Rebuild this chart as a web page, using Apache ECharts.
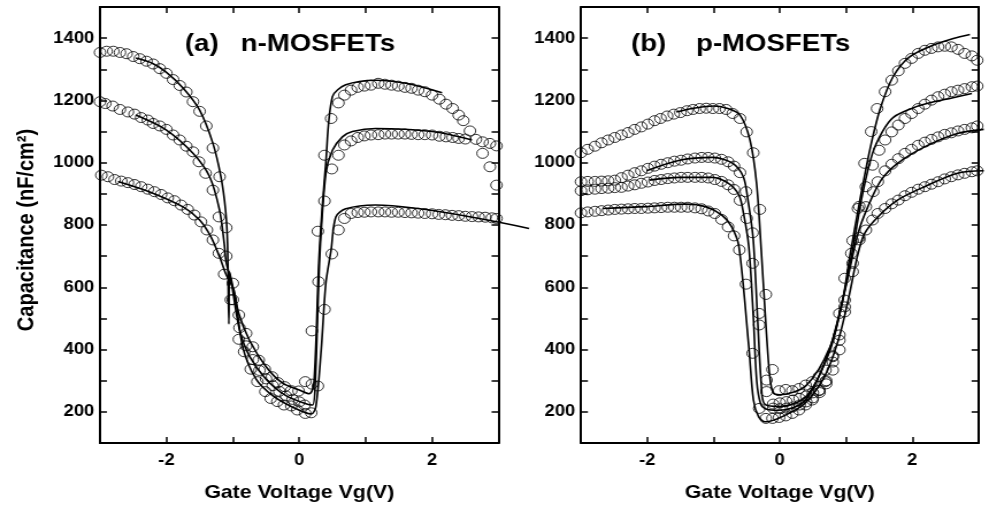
<!DOCTYPE html>
<html lang="en">
<head>
    <meta charset="UTF-8">
    <title>C-V curves</title>
    <script src="https://cdn.jsdelivr.net/npm/echarts@6/dist/echarts.min.js"></script>
    <style>
        html, body {margin: 0; padding: 0; background: #fff; overflow: hidden;}
        /* the original figure is stretched sideways, so draw narrow and stretch */
        #chart {width: 860px; height: 512px; transform: scaleX(1.15); transform-origin: 0 0;}
    </style>
</head>
<body>
<div id="chart"></div>
<script>
    // (a) n-MOSFETs, measured points [Vg, C]
    var aTopPts = [[-3.0,1354],[-2.9,1358],[-2.8,1358],[-2.7,1354],[-2.6,1350],[-2.5,1341],[-2.4,1334],[-2.3,1326],[-2.2,1317],[-2.1,1302],[-2.0,1287],[-1.9,1267],[-1.8,1248],[-1.7,1227],[-1.6,1196],[-1.5,1165],[-1.4,1118],[-1.3,1047],[-1.2,955],[-1.1,791],[-1.0,613],[-0.91,511],[-0.8,452],[-0.7,409],[-0.61,366],[-0.52,337],[-0.41,313],[-0.32,294],[-0.22,281],[-0.12,268],[-0.01,267],[0.09,297],[0.19,460],[0.28,780],[0.38,1024],[0.48,1142],[0.59,1192],[0.68,1217],[0.78,1233],[0.88,1242],[0.98,1246],[1.08,1249],[1.19,1255],[1.29,1252],[1.39,1249],[1.49,1246],[1.59,1242],[1.69,1239],[1.79,1233],[1.89,1228],[2.0,1217],[2.11,1204],[2.21,1188],[2.31,1174],[2.4,1153],[2.47,1135],[2.57,1102],[2.76,1030],[2.87,987],[2.97,928]];
    var aMidPts = [[-3.0,1196],[-2.92,1190],[-2.81,1182],[-2.7,1171],[-2.58,1163],[-2.48,1156],[-2.38,1145],[-2.28,1137],[-2.2,1126],[-2.1,1118],[-2.0,1107],[-1.9,1089],[-1.8,1073],[-1.7,1053],[-1.6,1035],[-1.51,1003],[-1.41,966],[-1.3,912],[-1.21,826],[-1.1,700],[-1.0,560],[-0.9,470],[-0.8,412],[-0.7,368],[-0.6,333],[-0.5,306],[-0.4,284],[-0.3,266],[-0.2,251],[-0.1,240],[0.0,232],[0.08,222],[0.19,289],[0.29,618],[0.38,877],[0.49,980],[0.59,1024],[0.68,1057],[0.78,1070],[0.88,1081],[0.98,1086],[1.08,1089],[1.19,1090],[1.29,1092],[1.39,1092],[1.49,1092],[1.59,1092],[1.69,1091],[1.79,1090],[1.89,1090],[2.0,1089],[2.11,1085],[2.21,1083],[2.31,1081],[2.4,1078],[2.5,1076],[2.66,1075],[2.76,1067],[2.87,1062],[2.97,1054]];
    var aBotPts = [[-2.98,960],[-2.88,955],[-2.78,946],[-2.68,941],[-2.58,936],[-2.48,930],[-2.38,923],[-2.28,915],[-2.18,907],[-2.08,898],[-1.98,887],[-1.88,878],[-1.78,864],[-1.68,850],[-1.58,832],[-1.48,810],[-1.39,784],[-1.3,752],[-1.21,709],[-1.13,642],[-1.03,560],[-0.91,433],[-0.83,393],[-0.73,337],[-0.63,297],[-0.51,265],[-0.43,243],[-0.33,233],[-0.23,222],[-0.12,219],[-0.03,206],[0.09,195],[0.18,197],[0.28,283],[0.38,529],[0.49,707],[0.59,784],[0.68,821],[0.78,837],[0.88,840],[0.98,841],[1.08,842],[1.19,842],[1.29,842],[1.39,841],[1.49,841],[1.59,840],[1.69,839],[1.79,838],[1.89,837],[2.0,836],[2.1,834],[2.2,833],[2.3,831],[2.4,830],[2.5,828],[2.6,827],[2.7,826],[2.8,825],[2.9,823],[2.97,821]];
    // (a) fitted curves
    var aTopFit = [[-2.46,1336],[-2.2,1318],[-2.0,1290],[-1.75,1240],[-1.5,1169],[-1.3,1062],[-1.18,955],[-1.11,848],[-1.08,741],[-1.06,482],[-1.05,650],[-0.91,516],[-0.75,430],[-0.5,345],[-0.25,292],[0,270],[0.15,258],[0.22,290],[0.3,703],[0.4,1000],[0.5,1212],[0.7,1250],[1.15,1265],[1.6,1255],[2.15,1225]];
    var aMidFit = [[-2.46,1153],[-2.0,1105],[-1.6,1030],[-1.35,955],[-1.2,848],[-1.13,741],[-1.1,680],[-1.03,624],[-0.9,464],[-0.75,379],[-0.5,305],[-0.2,252],[0.1,226],[0.2,222],[0.24,290],[0.31,703],[0.4,966],[0.5,1040],[0.65,1083],[0.8,1100],[1.15,1110],[2.0,1100],[2.6,1073]];
    var aBotFit = [[-2.73,940],[-2.26,907],[-1.75,858],[-1.5,816],[-1.33,762],[-1.2,698],[-1.1,640],[-0.98,588],[-0.85,407],[-0.65,305],[-0.4,252],[-0.1,215],[0.18,193],[0.25,217],[0.33,398],[0.4,613],[0.48,720],[0.55,826],[0.7,852],[1.15,864],[3.46,789]];

    // (b) p-MOSFETs, measured points
    var bTopPts = [[-3.0,1032],[-2.9,1043],[-2.79,1053],[-2.69,1064],[-2.59,1073],[-2.49,1081],[-2.39,1089],[-2.29,1097],[-2.19,1107],[-2.09,1115],[-1.99,1124],[-1.89,1135],[-1.8,1142],[-1.7,1150],[-1.6,1156],[-1.5,1161],[-1.4,1167],[-1.31,1171],[-1.21,1174],[-1.11,1175],[-1.01,1174],[-0.91,1174],[-0.81,1171],[-0.71,1158],[-0.6,1142],[-0.5,1099],[-0.4,1032],[-0.3,850],[-0.21,577],[-0.11,336],[-0.01,268],[0.09,272],[0.19,268],[0.29,275],[0.39,286],[0.49,297],[0.59,313],[0.69,334],[0.8,380],[0.9,447],[0.98,537],[1.08,709],[1.18,853],[1.28,998],[1.38,1100],[1.47,1174],[1.59,1228],[1.69,1265],[1.79,1295],[1.89,1319],[1.99,1335],[2.09,1351],[2.19,1361],[2.29,1367],[2.39,1372],[2.49,1374],[2.59,1372],[2.69,1364],[2.79,1351],[2.9,1343],[2.98,1329]];
    var bMidPts = [[-3.0,939],[-2.9,940],[-2.79,940],[-2.69,941],[-2.59,942],[-2.49,944],[-2.39,952],[-2.29,960],[-2.19,968],[-2.09,974],[-1.99,982],[-1.89,989],[-1.79,995],[-1.69,1000],[-1.59,1005],[-1.49,1008],[-1.39,1012],[-1.28,1015],[-1.18,1017],[-1.08,1017],[-0.98,1015],[-0.88,1011],[-0.78,1003],[-0.69,989],[-0.6,968],[-0.51,907],[-0.41,775],[-0.31,516],[-0.2,302],[-0.1,225],[0.0,229],[0.1,233],[0.2,238],[0.3,243],[0.4,251],[0.5,261],[0.6,270],[0.7,300],[0.8,377],[0.9,516],[0.98,629],[1.1,750],[1.2,860],[1.3,923],[1.4,992],[1.5,1040],[1.59,1073],[1.69,1099],[1.79,1121],[1.89,1142],[1.99,1158],[2.09,1174],[2.19,1188],[2.29,1201],[2.39,1212],[2.49,1220],[2.59,1228],[2.69,1233],[2.79,1238],[2.9,1244],[2.98,1246]];
    var bLowPts = [[-3.0,910],[-2.9,913],[-2.79,915],[-2.69,917],[-2.59,918],[-2.49,920],[-2.39,921],[-2.29,925],[-2.19,929],[-2.09,934],[-1.99,938],[-1.89,943],[-1.79,946],[-1.69,949],[-1.59,951],[-1.49,953],[-1.39,953],[-1.28,953],[-1.18,953],[-1.08,951],[-0.98,946],[-0.88,940],[-0.78,929],[-0.69,914],[-0.6,879],[-0.5,821],[-0.41,677],[-0.31,479],[-0.2,265],[-0.1,212],[0.0,210],[0.1,212],[0.2,216],[0.3,222],[0.4,232],[0.5,245],[0.6,262],[0.7,290],[0.8,360],[0.9,430],[0.98,521],[1.1,650],[1.2,760],[1.3,859],[1.41,907],[1.48,939],[1.59,974],[1.69,995],[1.79,1013],[1.89,1030],[1.99,1043],[2.09,1056],[2.19,1066],[2.29,1075],[2.39,1083],[2.49,1091],[2.59,1096],[2.69,1102],[2.79,1107],[2.9,1112],[2.98,1118]];
    var bBotPts = [[-3.0,839],[-2.9,842],[-2.79,844],[-2.69,846],[-2.59,848],[-2.49,850],[-2.39,851],[-2.29,852],[-2.19,853],[-2.09,853],[-1.99,854],[-1.89,855],[-1.79,856],[-1.69,857],[-1.59,857],[-1.49,857],[-1.39,857],[-1.28,855],[-1.18,852],[-1.08,845],[-0.98,837],[-0.88,818],[-0.78,794],[-0.69,765],[-0.61,720],[-0.51,610],[-0.41,388],[-0.31,211],[-0.21,179],[-0.11,179],[-0.01,182],[0.09,187],[0.19,195],[0.29,206],[0.39,222],[0.49,238],[0.59,268],[0.69,297],[0.8,334],[0.9,399],[0.98,559],[1.1,677],[1.2,752],[1.3,784],[1.4,816],[1.48,837],[1.59,853],[1.69,868],[1.79,880],[1.89,894],[1.99,905],[2.09,915],[2.19,923],[2.29,931],[2.39,939],[2.49,948],[2.59,955],[2.69,961],[2.79,966],[2.9,971],[2.98,974]];
    // (b) fitted curves
    var bTopFit = [[-1.56,1163],[-1.3,1175],[-1.0,1182],[-0.8,1175],[-0.6,1153],[-0.45,1073],[-0.35,934],[-0.28,720],[-0.2,450],[-0.15,313],[-0.1,262],[0.0,255],[0.4,285],[0.76,409],[0.95,560],[1.06,703],[1.21,880],[1.36,1041],[1.51,1169],[1.71,1276],[1.96,1340],[2.32,1378],[2.62,1399],[2.87,1412]];
    var bMidFit = [[-2.01,974],[-1.51,1008],[-1.01,1017],[-0.71,998],[-0.55,955],[-0.48,880],[-0.4,752],[-0.33,480],[-0.28,291],[-0.23,225],[0.0,217],[0.4,250],[0.76,399],[0.95,560],[1.1,720],[1.25,900],[1.4,1030],[1.55,1100],[1.71,1145],[2.0,1175],[2.22,1190],[2.6,1208],[2.9,1222]];
    var bLowFit = [[-1.96,944],[-1.51,953],[-1.01,953],[-0.76,934],[-0.6,896],[-0.53,837],[-0.45,730],[-0.38,500],[-0.33,300],[-0.27,225],[-0.2,210],[0.0,205],[0.4,235],[0.76,390],[1.0,580],[1.21,773],[1.36,859],[1.56,944],[1.81,998],[2.22,1051],[2.72,1094],[3.12,1107]];
    var bBotFit = [[-2.67,853],[-2.01,859],[-1.41,867],[-1.11,859],[-0.86,832],[-0.71,794],[-0.6,730],[-0.45,409],[-0.38,238],[-0.3,184],[-0.2,168],[0.05,184],[0.4,227],[0.7,313],[0.91,430],[1.06,559],[1.2,700],[1.31,773],[1.51,826],[1.81,880],[2.22,923],[2.72,966],[3.12,974]];

    var S = 1.15;   // horizontal stretch
    function px(x) { return x / S; }
    var FONT = 'Liberation Sans, Arial, sans-serif';

    function xAxisOf(g, pos) {
        return {
            type: 'value', gridIndex: g, position: pos, min: -3, max: 3, interval: 1,
            axisLine: {show: true, onZero: false, lineStyle: {color: '#000', width: 2}},
            axisTick: {show: true, inside: true, length: 6, lineStyle: {color: '#000', width: 1.5}},
            axisLabel: {
                show: pos == 'bottom', margin: 10, color: '#000', fontSize: 16, fontWeight: 'bold', fontFamily: FONT,
                formatter: function (v) { return v % 2 === 0 ? String(v) : ''; }
            },
            splitLine: {show: false},
            name: pos == 'bottom' ? 'Gate Voltage Vg(V)' : '',
            nameLocation: 'middle', nameGap: 40,
            nameTextStyle: {color: '#000', fontSize: 18.5, fontWeight: 'bold', fontFamily: FONT}
        };
    }
    function yAxisOf(g, pos) {
        return {
            type: 'value', gridIndex: g, position: pos, min: 100, max: 1500, interval: 100,
            axisLine: {show: true, onZero: false, lineStyle: {color: '#000', width: 2}},
            axisTick: {show: true, inside: true, length: 6, lineStyle: {color: '#000', width: 1.5}},
            axisLabel: {
                show: pos == 'left', margin: 5, color: '#000', fontSize: 16, fontWeight: 'bold', fontFamily: FONT,
                formatter: function (v) { return v % 200 === 0 ? String(v) : ''; }
            },
            splitLine: {show: false}
        };
    }
    // hidden, wider axes for fitted lines that run past the right frame
    function xWide(g, max) {
        return {type: 'value', gridIndex: g, min: -3, max: max, show: false, splitLine: {show: false}};
    }
    function yWide(g) {
        return {type: 'value', gridIndex: g, min: 100, max: 1500, show: false, splitLine: {show: false}};
    }

    function pts(data, ax) {
        return {
            type: 'scatter', data: data, xAxisIndex: ax, yAxisIndex: ax,
            symbol: 'circle', symbolSize: 10,
            itemStyle: {color: 'rgba(0,0,0,0)', borderColor: '#000', borderWidth: 1},
            z: 3
        };
    }
    function fit(data, ax) {
        return {
            type: 'line', data: data, xAxisIndex: ax, yAxisIndex: ax,
            showSymbol: false, smooth: 0.3, clip: false,
            lineStyle: {color: '#000', width: 1.6},
            z: 2
        };
    }
    function label(text, x) {
        return {
            type: 'text', left: px(x), top: 32,
            style: {text: text, fill: '#000', font: 'bold 24px ' + FONT}
        };
    }

    var myChart = echarts.init(document.getElementById('chart'));
    var option = {
        animation: false,
        backgroundColor: '#fff',
        grid: [
            {left: px(100), top: 7, width: px(398.5), height: 436},
            {left: px(581), top: 7, width: px(397.5), height: 436},
            {left: px(100), top: 7, width: px(398.5 * 6.5 / 6), height: 436},
            {left: px(581), top: 7, width: px(397.5 * 6.2 / 6), height: 436}
        ],
        xAxis: [xAxisOf(0, 'bottom'), xAxisOf(0, 'top'), xAxisOf(1, 'bottom'), xAxisOf(1, 'top'), xWide(2, 3.5), xWide(3, 3.2)],
        yAxis: [yAxisOf(0, 'left'), yAxisOf(0, 'right'), yAxisOf(1, 'left'), yAxisOf(1, 'right'), yWide(2), yWide(3)],
        graphic: [
            label('(a)', 185), label('n-MOSFETs', 240.7), label('(b)', 631), label('p-MOSFETs', 696),
            {
                type: 'text', x: px(26.5), y: 230, rotation: Math.PI / 2,
                style: {text: 'Capacitance (nF/cm²)', fill: '#000', font: 'bold 20px ' + FONT, align: 'center', verticalAlign: 'middle'}
            }
        ],
        series: [
            fit(aTopFit, 0), fit(aMidFit, 0), fit(aBotFit, 4),
            pts(aTopPts, 0), pts(aMidPts, 0), pts(aBotPts, 0),
            fit(bTopFit, 2), fit(bMidFit, 2), fit(bLowFit, 5), fit(bBotFit, 5),
            pts(bTopPts, 2), pts(bMidPts, 2), pts(bLowPts, 2), pts(bBotPts, 2)
        ]
    };
    myChart.setOption(option);
</script>
</body>
</html>
